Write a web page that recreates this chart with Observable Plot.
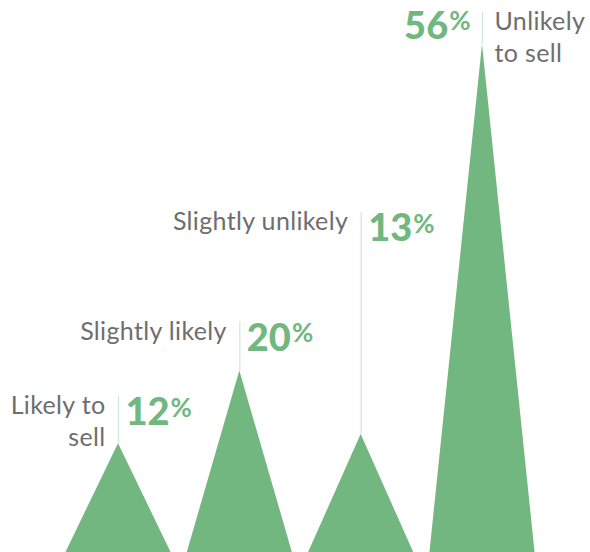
<!DOCTYPE html>
<html>
<head>
<meta charset="utf-8">
<script src="https://cdn.jsdelivr.net/npm/d3@7"></script>
<script src="https://cdn.jsdelivr.net/npm/@observablehq/plot@0.6"></script>
<style>
  html, body { margin: 0; padding: 0; background: #fff; }
  #chart svg { display: block; }
</style>
</head>
<body>
<div id="chart"></div>
<script>
// ---- data ----
const categories = ["Likely to sell", "Slightly likely", "Slightly unlikely", "Unlikely to sell"];
const labels = ["Likely to\nsell", "Slightly likely", "Slightly unlikely", "Unlikely\nto sell"];
const values = [12, 20, 13, 56];

// ---- layout (not data) ----
const labelSide = ["left", "left", "left", "right"];
const leaderTop = [17.2, 25.4, 37.5, 59.6]; // in y-scale units
const halfBase = 0.433;
const green = "#72b77f";
const grey = "#6e6e6e";
const leader = "#cfe7d5";

const idx = categories.map((_, i) => i);
const tri = idx.flatMap(i => [
  {x: i - halfBase, y: 0, z: categories[i]},
  {x: i, y: values[i], z: categories[i]},
  {x: i + halfBase, y: 0, z: categories[i]}
]);
const leftIdx = idx.filter(i => labelSide[i] === "left");
const rightIdx = idx.filter(i => labelSide[i] === "right");

const chart = Plot.plot({
  width: 590,
  height: 552,
  margin: 0,
  style: {fontFamily: "Lato, sans-serif", background: "#fff"},
  x: {type: "linear", domain: [0, 3], range: [118, 482], axis: null},
  y: {domain: [0, 56], range: [552, 44], axis: null},
  marks: [
    Plot.ruleX(idx, {x: i => i, y1: i => values[i], y2: i => leaderTop[i], stroke: leader, strokeWidth: 1.2}),
    Plot.areaY(tri, {x: "x", y: "y", z: "z", fill: green, curve: "linear"}),
    // category labels
    Plot.text(leftIdx, {x: i => i, y: i => leaderTop[i], text: i => labels[i], textAnchor: "end", lineAnchor: "top", dx: -13, dy: -5, fontSize: 25, lineHeight: 1.28, fill: grey}),
    Plot.text(rightIdx, {x: i => i, y: i => leaderTop[i], text: i => labels[i], textAnchor: "start", lineAnchor: "top", dx: 12, dy: -5, fontSize: 25, lineHeight: 1.28, fill: grey}),
    // percentages
    Plot.text(leftIdx, {x: i => i, y: i => leaderTop[i], text: i => values[i] + "%", textAnchor: "start", lineAnchor: "top", dx: 7, dy: 2, fontSize: 38, fontWeight: 900, fill: green}),
    Plot.text(rightIdx, {x: i => i, y: i => leaderTop[i], text: i => values[i] + "%", textAnchor: "end", lineAnchor: "top", dx: -12, dy: 0, fontSize: 38, fontWeight: 900, fill: green})
  ]
});

// smaller, raised percent sign; slight tracking on category labels
d3.select(chart).selectAll("text").each(function() {
  const t = this.textContent;
  if (/^\d+%$/.test(t)) {
    this.textContent = t.slice(0, -1);
    d3.select(this).append("tspan")
      .attr("font-size", 26)
      .attr("font-weight", 700)
      .attr("dy", "-0.33em")
      .attr("dx", 1)
      .text("%");
  } else {
    d3.select(this).attr("letter-spacing", 0.35);
  }
});

document.getElementById("chart").appendChild(chart);
</script>
</body>
</html>
